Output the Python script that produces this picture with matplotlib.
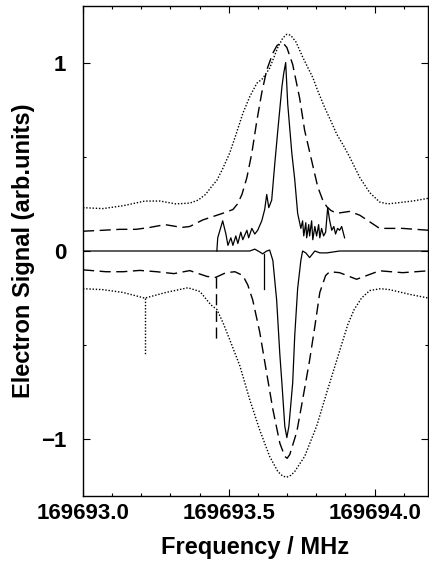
import numpy as np
import matplotlib.pyplot as plt
from matplotlib.ticker import MultipleLocator, FormatStrFormatter

plt.rcParams['font.family'] = ['Liberation Sans', 'DejaVu Sans']
plt.rcParams['font.weight'] = 'bold'

f0 = 169693.0

# Krzywe gorne (dodatnie) - przesuniecie czestotliwosci w MHz od 169693.0
kropki_gora_x = [0.000, 0.068, 0.137, 0.212, 0.264, 0.318, 0.366, 0.395, 0.420, 0.440,
                 0.459, 0.480, 0.503, 0.525, 0.548, 0.572, 0.596, 0.616, 0.640, 0.668,
                 0.685, 0.699, 0.712, 0.730, 0.753, 0.788, 0.805, 0.829, 0.850, 0.870,
                 0.893, 0.914, 0.949, 0.983, 1.017, 1.045, 1.075, 1.130, 1.185]
kropki_gora_y = [0.23, 0.225, 0.24, 0.265, 0.265, 0.25, 0.254, 0.27, 0.30, 0.34,
                 0.375, 0.44, 0.52, 0.62, 0.73, 0.82, 0.89, 0.915, 0.97, 1.08,
                 1.13, 1.15, 1.145, 1.11, 1.03, 0.92, 0.85, 0.76, 0.69, 0.62,
                 0.56, 0.50, 0.39, 0.31, 0.26, 0.25, 0.255, 0.265, 0.28]

kreski_gora_x = [0.000, 0.068, 0.127, 0.182, 0.229, 0.281, 0.339, 0.366, 0.411, 0.479,
                 0.514, 0.530, 0.545, 0.562, 0.579, 0.596, 0.613, 0.630, 0.651, 0.665,
                 0.675, 0.688, 0.699, 0.719, 0.743, 0.760, 0.784, 0.805, 0.822, 0.836,
                 0.850, 0.870, 0.914, 0.949, 0.983, 1.017, 1.096, 1.185]
kreski_gora_y = [0.105, 0.11, 0.115, 0.115, 0.125, 0.14, 0.125, 0.13, 0.165, 0.20,
                 0.22, 0.25, 0.30, 0.39, 0.52, 0.69, 0.84, 0.96, 1.05, 1.09,
                 1.10, 1.10, 1.08, 0.99, 0.81, 0.64, 0.48, 0.34, 0.27, 0.235,
                 0.215, 0.20, 0.21, 0.19, 0.155, 0.12, 0.12, 0.11]

ciagla_gora_x = [0.459, 0.462, 0.479, 0.490, 0.497, 0.507, 0.514, 0.524, 0.531, 0.541,
                 0.548, 0.562, 0.568, 0.579, 0.589, 0.599, 0.613, 0.623, 0.630, 0.637,
                 0.647, 0.658, 0.668, 0.682, 0.688, 0.695, 0.702, 0.716, 0.726, 0.736,
                 0.747, 0.753, 0.757, 0.764, 0.767, 0.774, 0.777, 0.784, 0.788, 0.795,
                 0.801, 0.808, 0.812, 0.818, 0.825, 0.832, 0.839, 0.846, 0.853, 0.860,
                 0.866, 0.873, 0.880, 0.887, 0.897]
ciagla_gora_y = [0.0, 0.07, 0.16, 0.09, 0.03, 0.07, 0.03, 0.08, 0.04, 0.10,
                 0.06, 0.11, 0.07, 0.12, 0.09, 0.11, 0.16, 0.22, 0.30, 0.23,
                 0.27, 0.47, 0.64, 0.87, 0.94, 1.00, 0.78, 0.52, 0.38, 0.20,
                 0.12, 0.16, 0.08, 0.15, 0.07, 0.14, 0.08, 0.16, 0.06, 0.13,
                 0.08, 0.14, 0.07, 0.12, 0.08, 0.10, 0.23, 0.16, 0.11, 0.13,
                 0.09, 0.12, 0.11, 0.13, 0.07]

# Krzywe dolne (ujemne)
kropki_dol_x = [0.000, 0.068, 0.137, 0.212, 0.284, 0.360, 0.401, 0.438, 0.459, 0.480,
                0.503, 0.538, 0.572, 0.606, 0.640, 0.668, 0.685, 0.699, 0.713, 0.726,
                0.760, 0.801, 0.836, 0.870, 0.908, 0.930, 0.955, 0.983, 1.020, 1.051,
                1.120, 1.185]
kropki_dol_y = [-0.20, -0.205, -0.22, -0.25, -0.22, -0.195, -0.215, -0.285, -0.31, -0.38,
                -0.47, -0.61, -0.79, -0.95, -1.09, -1.17, -1.195, -1.20, -1.19, -1.17,
                -1.09, -0.93, -0.75, -0.58, -0.39, -0.31, -0.25, -0.21, -0.20, -0.205,
                -0.23, -0.25]

kreski_dol_x = [0.000, 0.079, 0.137, 0.195, 0.253, 0.312, 0.366, 0.425, 0.455, 0.490,
                0.521, 0.548, 0.565, 0.582, 0.606, 0.630, 0.651, 0.675, 0.692, 0.700,
                0.709, 0.733, 0.753, 0.777, 0.795, 0.812, 0.832, 0.846, 0.880, 0.938,
                1.017, 1.096, 1.185]
kreski_dol_y = [-0.10, -0.11, -0.11, -0.103, -0.11, -0.12, -0.104, -0.135, -0.14, -0.115,
                -0.11, -0.13, -0.18, -0.26, -0.43, -0.65, -0.84, -1.02, -1.09, -1.10,
                -1.08, -0.96, -0.79, -0.58, -0.40, -0.22, -0.13, -0.11, -0.115, -0.15,
                -0.105, -0.115, -0.105]

ciagla_dol_x = [0.000, 0.572, 0.589, 0.606, 0.616, 0.630, 0.640, 0.651, 0.664, 0.675,
                0.682, 0.692, 0.699, 0.706, 0.719, 0.726, 0.736, 0.747, 0.753, 0.764,
                0.777, 0.795, 0.812, 0.836, 0.880, 1.185]
ciagla_dol_y = [0.0, 0.0, 0.01, -0.005, -0.015, 0.0, 0.005, -0.05, -0.26, -0.55,
                -0.70, -0.93, -0.99, -0.93, -0.70, -0.45, -0.20, -0.05, 0.0, -0.01,
                -0.035, 0.0, -0.01, -0.01, 0.0, 0.0]

# Pionowe znaczniki (x, y_od, y_do)
znacznik_kropki = (0.212, -0.25, -0.55)
znacznik_kreski = (0.455, -0.14, -0.47)
znacznik_ciagly = (0.620, -0.015, -0.20)

fig = plt.figure(figsize=(4.29, 5.61), dpi=100)
ax = fig.add_axes([83 / 429, 65 / 561, 345 / 429, 490 / 561])

kropki = dict(color='black', lw=1.0, linestyle=(0, (1, 1.3)))
kreski = dict(color='black', lw=1.0, linestyle=(0, (8, 4)))
ciagla = dict(color='black', lw=0.9, linestyle='-')

def rysuj(x, y, styl):
    ax.plot(f0 + np.array(x), y, **styl)

rysuj(kropki_gora_x, kropki_gora_y, kropki)
rysuj(kreski_gora_x, kreski_gora_y, kreski)
rysuj(ciagla_gora_x, ciagla_gora_y, ciagla)
rysuj(kropki_dol_x, kropki_dol_y, kropki)
rysuj(kreski_dol_x, kreski_dol_y, kreski)
rysuj(ciagla_dol_x, ciagla_dol_y, ciagla)

for (zx, za, zb), styl in [(znacznik_kropki, kropki), (znacznik_kreski, kreski),
                           (znacznik_ciagly, ciagla)]:
    ax.plot([f0 + zx, f0 + zx], [za, zb], **styl)

ax.set_xlim(f0, f0 + 1.183)
ax.set_ylim(-1.3, 1.3)
ax.xaxis.set_major_locator(MultipleLocator(0.5))
ax.xaxis.set_minor_locator(MultipleLocator(0.1))
ax.xaxis.set_major_formatter(FormatStrFormatter('%.1f'))
ax.yaxis.set_major_locator(MultipleLocator(1))
ax.yaxis.set_minor_locator(MultipleLocator(0.5))
ax.tick_params(which='both', direction='in', top=True, right=True, width=0.8)
ax.tick_params(which='major', length=5, labelsize=16, pad=5)
ax.tick_params(which='minor', length=2.5)
ax.tick_params(axis='y', pad=12)
for s in ax.spines.values():
    s.set_linewidth(1.0)

ax.set_xlabel('Frequency / MHz', fontsize=17, fontweight='bold', labelpad=9)
ax.set_ylabel('Electron Signal (arb.units)', fontsize=17, fontweight='bold', labelpad=4)

fig.savefig('out.png', dpi=100)
